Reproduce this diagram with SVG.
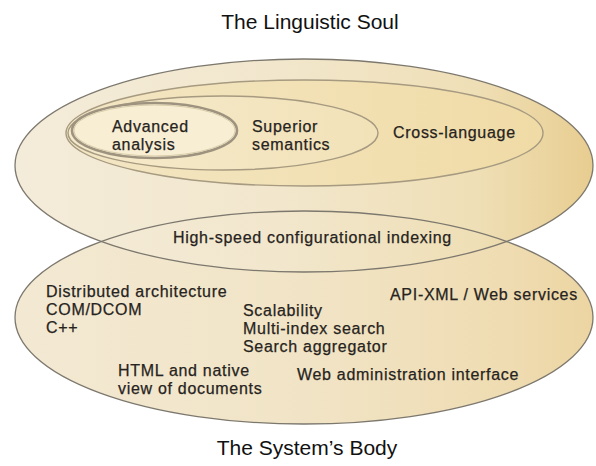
<svg xmlns="http://www.w3.org/2000/svg" width="596" height="466" viewBox="0 0 596 466">
<defs>
<linearGradient id="gOuter" x1="0" y1="0" x2="1" y2="0">
<stop offset="0" stop-color="#f4ecda"/>
<stop offset="0.45" stop-color="#f2e7cd"/>
<stop offset="0.8" stop-color="#efdfb6"/>
<stop offset="1" stop-color="#e8cd90"/>
</linearGradient>
<linearGradient id="gBottom" x1="0" y1="0" x2="1" y2="0">
<stop offset="0" stop-color="#f3e9d3"/>
<stop offset="0.5" stop-color="#f1e4c6"/>
<stop offset="0.85" stop-color="#efdcb2"/>
<stop offset="1" stop-color="#ecd5a2"/>
</linearGradient>
<linearGradient id="gCross" x1="0" y1="0" x2="1" y2="0">
<stop offset="0" stop-color="#f3e6c4"/>
<stop offset="0.6" stop-color="#f2e0b2"/>
<stop offset="1" stop-color="#f0dba6"/>
</linearGradient>
<linearGradient id="gSup" x1="0" y1="0" x2="1" y2="0">
<stop offset="0" stop-color="#f5eacc"/>
<stop offset="1" stop-color="#f2e2b8"/>
</linearGradient>
</defs>
<style>
.edge{fill:none;stroke:#7d786e;stroke-width:1.3}
.inner{stroke:#a69a80;stroke-width:1.4}
.t{font-family:"Liberation Sans",Arial,Helvetica,sans-serif;font-size:16px;letter-spacing:0.7px;fill:#262320;stroke:#262320;stroke-width:0.25}
.title{font-family:"Liberation Sans",Arial,Helvetica,sans-serif;font-size:21px;fill:#111;text-anchor:middle}
</style>
<rect width="596" height="466" fill="#ffffff"/>
<text class="title" x="310" y="29">The Linguistic Soul</text>
<g id="system-body">
<ellipse cx="304" cy="317.5" rx="289" ry="106.5" fill="url(#gBottom)"/>
</g>
<g id="linguistic-soul">
<ellipse cx="304" cy="165.5" rx="289" ry="106.5" fill="url(#gOuter)"/>
<ellipse class="edge" cx="304" cy="165.5" rx="289" ry="106.5"/>
</g>
<g id="system-body-edge">
<ellipse class="edge" cx="304" cy="317.5" rx="289" ry="106.5"/>
</g>
<g id="cross-language">
<ellipse class="inner" cx="304.5" cy="133" rx="238.5" ry="53" fill="url(#gCross)"/>
<text class="t" x="393" y="138">Cross-language</text>
</g>
<g id="superior-semantics">
<ellipse class="inner" cx="223" cy="133" rx="155" ry="37" fill="url(#gSup)"/>
<text class="t" x="252" y="131.5">Superior</text>
<text class="t" x="252" y="149.5">semantics</text>
</g>
<g id="advanced-analysis">
<ellipse cx="154.5" cy="130.5" rx="82.5" ry="27.5" fill="#f7eed3" stroke="#9d937f" stroke-width="2.6"/>
<ellipse cx="154.5" cy="130.5" rx="80.5" ry="25.5" fill="none" stroke="#d9ccaa" stroke-width="1"/>
<text class="t" x="112" y="131.5">Advanced</text>
<text class="t" x="112" y="149.5">analysis</text>
</g>
<g id="indexing">
<text class="t" x="173" y="243">High-speed configurational indexing</text>
</g>
<g id="architecture">
<text class="t" x="46" y="297">Distributed architecture</text>
<text class="t" x="46" y="315">COM/DCOM</text>
<text class="t" x="46" y="333">C++</text>
</g>
<g id="scalability">
<text class="t" x="243" y="316">Scalability</text>
<text class="t" x="243" y="334">Multi-index search</text>
<text class="t" x="243" y="352">Search aggregator</text>
</g>
<g id="api">
<text class="t" x="390" y="300">API-XML / Web services</text>
</g>
<g id="html-view">
<text class="t" x="118" y="376">HTML and native</text>
<text class="t" x="118" y="394">view of documents</text>
</g>
<g id="web-admin">
<text class="t" x="297" y="380">Web administration interface</text>
</g>
<text class="title" x="307" y="455">The System’s Body</text>
</svg>
